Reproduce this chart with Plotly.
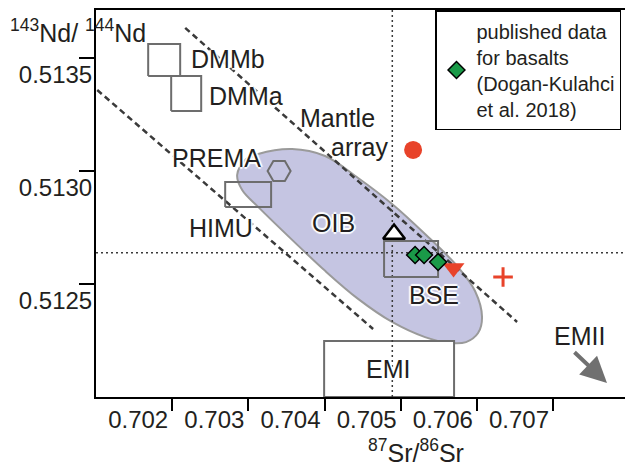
import plotly.graph_objects as go

FONT = "Liberation Sans, Arial, sans-serif"
TXT = "#231f20"
RED = "#e8432a"
GREEN = "#1a9a48"
GRAY = "#6d6d6d"
DARK = "#3a3a3a"
HALO = "2px 0 1px white, -2px 0 1px white, 0 2px 1px white, 0 -2px 1px white"

# ---- axes ----
x_range = [0.701, 0.707945]
y_range = [0.512, 0.513712]
x_tick_vals = [0.702, 0.703, 0.704, 0.705, 0.706, 0.707]
x_tick_text = ["0.702", "0.703", "0.704", "0.705", "0.706", "0.707"]
y_tick_vals = [0.5125, 0.5130, 0.5135]
y_tick_text = ["0.5125", "0.5130", "0.5135"]

# ---- OIB field outline (87Sr/86Sr, 143Nd/144Nd) ----
oib_sr = [0.702853, 0.702958, 0.703129, 0.703575, 0.704008, 0.704441, 0.704887,
          0.705320, 0.705753, 0.705976, 0.706068, 0.706016, 0.705858, 0.705648,
          0.705320, 0.704887, 0.704441, 0.704008, 0.703575, 0.703129, 0.702919,
          0.702853]
oib_nd = [0.512982, 0.513049, 0.513075, 0.513097, 0.513066, 0.512969, 0.512854,
          0.512721, 0.512575, 0.512469, 0.512354, 0.512283, 0.512243, 0.512239,
          0.512265, 0.512332, 0.512434, 0.512558, 0.512695, 0.512841, 0.512916,
          0.512982]

# ---- mantle array bounds ----
mantle_upper_sr = [0.702171, 0.706528]
mantle_upper_nd = [0.513633, 0.512332]
mantle_lower_sr = [0.701016, 0.704638]
mantle_lower_nd = [0.513358, 0.512301]

# ---- reference values ----
chur_nd = 0.512638
bse_sr = 0.70489

# ---- reservoir boxes ----
box_names = ["DMMb", "DMMa", "PREMA", "BSE", "EMI"]
box_sr_min = [0.701685, 0.701987, 0.702696, 0.704782, 0.703995]
box_sr_max = [0.702105, 0.702381, 0.703299, 0.705491, 0.705701]
box_nd_min = [0.513420, 0.513265, 0.512841, 0.512531, 0.512000]
box_nd_max = [0.513562, 0.513420, 0.512951, 0.512690, 0.512248]

prema_hex_sr = [0.703404]
prema_hex_nd = [0.513000]

# ---- samples ----
basalt_sr = [0.705189, 0.705307, 0.705491]
basalt_nd = [0.512628, 0.512628, 0.512597]
circle_sr, circle_nd = [0.705163], [0.513093]
tri_up_sr, tri_up_nd = [0.704913], [0.512721]
tri_down_sr, tri_down_nd = [0.705694], [0.512571]
plus_sr, plus_nd = [0.706344], [0.512531]

# ---- labels ----
label_text = ["DMMb", "DMMa", "Mantle", "array", "PREMA", "HIMU", "OIB", "BSE", "EMI", "EMII"]
label_sr = [0.702223, 0.702459, 0.704165, 0.704861, 0.702577, 0.702643, 0.704113, 0.705438, 0.704835, 0.707354]
label_nd = [0.513496, 0.513332, 0.513235, 0.513106, 0.513058, 0.512748, 0.512770, 0.512451, 0.512124, 0.512270]
label_anchor = ["left", "left", "center", "right", "center", "center", "center", "center", "center", "center"]

emii_tail = (0.707262, 0.512204)
emii_head = (0.707709, 0.512062)

fig = go.Figure()

# OIB field
fig.add_trace(go.Scatter(x=oib_sr, y=oib_nd, mode="lines", line=dict(color="#9a9a9a", width=2, shape="spline", smoothing=1.0),
                         fill="toself", fillcolor="#c5c5e2", showlegend=False, hoverinfo="skip"))

# EMI box (white filled) first
i = box_names.index("EMI")
fig.add_trace(go.Scatter(x=[box_sr_min[i], box_sr_max[i], box_sr_max[i], box_sr_min[i], box_sr_min[i]],
                         y=[box_nd_min[i], box_nd_min[i], box_nd_max[i], box_nd_max[i], box_nd_min[i]],
                         mode="lines", line=dict(color=GRAY, width=2), fill="toself", fillcolor="white",
                         showlegend=False, hoverinfo="skip"))

# mantle array dashed lines
for xs, ys in [(mantle_upper_sr, mantle_upper_nd), (mantle_lower_sr, mantle_lower_nd)]:
    fig.add_trace(go.Scatter(x=xs, y=ys, mode="lines", line=dict(color=DARK, width=2.5, dash="6px,4px"),
                             showlegend=False, hoverinfo="skip"))

# dotted reference lines
fig.add_trace(go.Scatter(x=[bse_sr, bse_sr], y=y_range, mode="lines", line=dict(color=DARK, width=1.5, dash="2px,3px"),
                         showlegend=False, hoverinfo="skip"))
fig.add_trace(go.Scatter(x=x_range, y=[chur_nd, chur_nd], mode="lines", line=dict(color=DARK, width=1.5, dash="2px,3px"),
                         showlegend=False, hoverinfo="skip"))

# other boxes
for j, name in enumerate(box_names):
    if name == "EMI":
        continue
    fig.add_trace(go.Scatter(x=[box_sr_min[j], box_sr_max[j], box_sr_max[j], box_sr_min[j], box_sr_min[j]],
                             y=[box_nd_min[j], box_nd_min[j], box_nd_max[j], box_nd_max[j], box_nd_min[j]],
                             mode="lines", line=dict(color=GRAY, width=2), showlegend=False, hoverinfo="skip"))

# PREMA hexagon
fig.add_trace(go.Scatter(x=prema_hex_sr, y=prema_hex_nd, mode="markers",
                         marker=dict(symbol="hexagon2-open", size=23, color=GRAY, line=dict(width=2, color=GRAY)),
                         showlegend=False, hoverinfo="skip"))

# samples
fig.add_trace(go.Scatter(x=circle_sr, y=circle_nd, mode="markers",
                         marker=dict(symbol="circle", size=18, color=RED), showlegend=False))
fig.add_trace(go.Scatter(x=tri_up_sr, y=tri_up_nd, mode="markers",
                         marker=dict(symbol="triangle-up", size=19, color="white", line=dict(width=2.5, color="black")),
                         showlegend=False))
fig.add_trace(go.Scatter(x=tri_down_sr, y=tri_down_nd, mode="markers",
                         marker=dict(symbol="triangle-down", size=19, color=RED), showlegend=False))
fig.add_trace(go.Scatter(x=plus_sr, y=plus_nd, mode="markers",
                         marker=dict(symbol="cross-thin-open", size=14, color=RED, line=dict(width=3, color=RED)),
                         showlegend=False))
fig.add_trace(go.Scatter(x=basalt_sr, y=basalt_nd, mode="markers",
                         name="published data<br>for basalts<br>(Dogan-Kulahci<br>et al. 2018)",
                         marker=dict(symbol="diamond", size=13, color=GREEN, line=dict(width=1.5, color="black")),
                         showlegend=True))

annotations = []
for t, xv, yv, anc in zip(label_text, label_sr, label_nd, label_anchor):
    annotations.append(dict(x=xv, y=yv, xref="x", yref="y", text=t, showarrow=False, xanchor=anc, yanchor="middle",
                            font=dict(family=FONT, size=25, color=TXT, shadow=HALO)))

annotations.append(dict(x=emii_head[0], y=emii_head[1], ax=emii_tail[0], ay=emii_tail[1], xref="x", yref="y",
                        axref="x", ayref="y", text="", showarrow=True, arrowhead=2, arrowsize=1.3, arrowwidth=4,
                        arrowcolor="#707070"))

# axis titles
annotations.append(dict(x=(8 - 96) / 529, y=(466 - 69 - 31) / 387, xref="paper", yref="paper",
                        text="<sup>143</sup>Nd/ <sup>144</sup>Nd", showarrow=False, xanchor="left", yanchor="middle",
                        font=dict(family=FONT, size=25, color=TXT)))
annotations.append(dict(x=(416 - 96) / 529, y=-(451 - 397) / 387, xref="paper", yref="paper",
                        text="<sup>87</sup>Sr/<sup>86</sup>Sr", showarrow=False, xanchor="center", yanchor="middle",
                        font=dict(family=FONT, size=25, color=TXT)))

fig.update_layout(
    width=625, height=466, autosize=False,
    margin=dict(l=96, r=0, t=10, b=69, pad=0),
    paper_bgcolor="white", plot_bgcolor="white",
    font=dict(family=FONT, color=TXT, size=22),
    xaxis=dict(range=x_range, tickvals=x_tick_vals, ticktext=x_tick_text, ticks="outside", ticklen=12,
               tickwidth=1.5, tickcolor="black", showline=True, linecolor="black", linewidth=2, mirror=True,
               showgrid=False, zeroline=False, ticklabelshift=-34, ticklabelstandoff=-12,
               tickfont=dict(size=24, family=FONT, color=TXT)),
    yaxis=dict(range=y_range, tickvals=y_tick_vals, ticktext=y_tick_text, ticks="outside", ticklen=15,
               tickwidth=1.5, tickcolor="black", showline=True, linecolor="black", linewidth=2, mirror=False,
               showgrid=False, zeroline=False, ticklabelshift=17, ticklabelstandoff=-18,
               tickfont=dict(size=24, family=FONT, color=TXT)),
    legend=dict(x=(435 - 96) / 529, y=1, xanchor="left", yanchor="top", bordercolor="black", borderwidth=1.5,
                bgcolor="white", font=dict(family=FONT, size=20, color=TXT), tracegroupgap=0),
    annotations=annotations,
    showlegend=True,
)

fig.write_html("out.html")
